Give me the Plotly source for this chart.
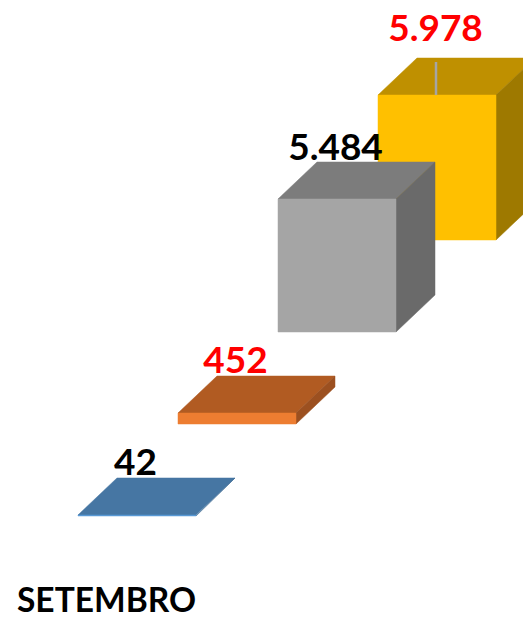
import plotly.graph_objects as go

categories = ["SETEMBRO"]
values = [42, 452, 5484, 5978]
value_labels = ["42", "452", "5.484", "5.978"]

front_colors = ["#5B9BD5", "#ED7D31", "#A5A5A5", "#FFC000"]
top_colors = ["#4676A3", "#B15B22", "#7C7C7C", "#BF9000"]
side_colors = ["#3E6A92", "#9C5020", "#6A6A6A", "#9E7900"]
label_colors = ["#000000", "#FF0000", "#000000", "#FF0000"]
label_lift = [12, 12, 11, 26]

W, H = 523, 620
PX = 133 / 5484          # pixels per value unit
BOTTOM_PX = 104          # first baseline above the page bottom
STEP_X, STEP_Y = 100, 92
BAR_W, DX, DY = 118, 39, 37
LEFT0 = 78


def u(px):
    return px / PX


fig = go.Figure()


def poly(xs, ys, color):
    fig.add_trace(go.Scatter(x=xs, y=ys, mode="lines", fill="toself", fillcolor=color,
                             line=dict(color=color, width=0.5), hoverinfo="skip", showlegend=False))


for i in reversed(range(len(values))):
    v = values[i]
    x0 = LEFT0 + STEP_X * i
    x1 = x0 + BAR_W
    y0 = u(STEP_Y * i)
    y1 = y0 + v
    d = u(DY)
    poly([x0, x1, x1 + DX, x0 + DX, x0], [y1, y1, y1 + d, y1 + d, y1], top_colors[i])
    poly([x1, x1 + DX, x1 + DX, x1, x1], [y0, y0 + d, y1 + d, y1, y0], side_colors[i])
    poly([x0, x1, x1, x0, x0], [y0, y0, y1, y1, y0], front_colors[i])
    if i == 3:
        fig.add_trace(go.Scatter(x=[x0 + BAR_W / 2 - 1, x0 + BAR_W / 2 - 1], y=[y1, y1 + u(33)], mode="lines",
                                 line=dict(color="#A5A5A5", width=2.5), hoverinfo="skip", showlegend=False))

fig.add_trace(go.Scatter(
    x=[LEFT0 + STEP_X * i + BAR_W / 2 - 1.5 for i in range(len(values))],
    y=[u(STEP_Y * i) + values[i] + u(DY) + u(label_lift[i]) for i in range(len(values))],
    mode="text", text=value_labels,
    textfont=dict(family="Lato", size=37, color=label_colors, weight="bold"),
    textposition="middle center", hoverinfo="skip", showlegend=False))

fig.update_layout(
    width=W, height=H, margin=dict(l=0, r=0, t=0, b=0),
    paper_bgcolor="white", plot_bgcolor="white", showlegend=False,
    xaxis=dict(range=[0, W], visible=False, fixedrange=True),
    yaxis=dict(range=[u(-BOTTOM_PX), u(H - BOTTOM_PX)], visible=False, fixedrange=True),
    annotations=[dict(text=categories[0], x=15 / W, y=(620 - 599) / H, xref="paper", yref="paper",
                      xanchor="left", yanchor="middle", showarrow=False,
                      font=dict(family="Lato", size=33.5, color="#000000", weight="bold"))],
)

fig.write_html("out.html", config={"displayModeBar": False},
               post_script="document.body.style.margin='0';document.body.style.overflow='hidden';")
